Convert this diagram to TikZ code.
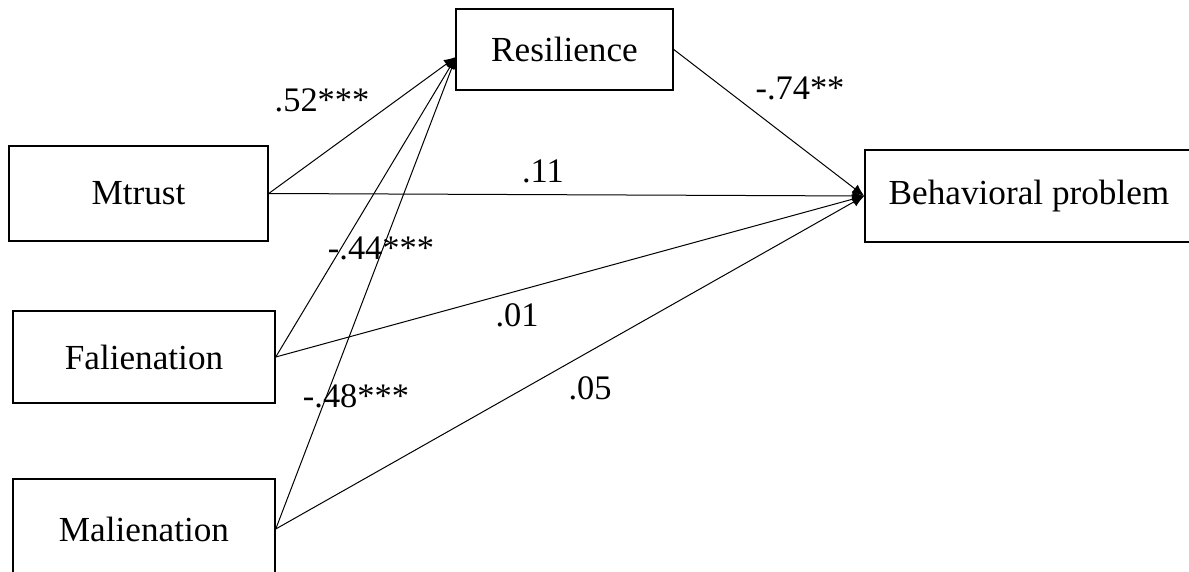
\documentclass[tikz,border=0pt]{standalone}
\usepackage{fontspec}
\setmainfont{Liberation Serif}
\usetikzlibrary{arrows.meta}
\begin{document}
\begin{tikzpicture}[x=0.5pt,y=-0.5pt,
  box/.style={draw, line width=0.75pt, inner sep=0pt, font=\fontsize{17.6}{20}\selectfont},
  link/.style={line width=0.5pt, -{Latex[length=6pt,width=5pt]}},
  lab/.style={font=\fontsize{17.2}{20}\selectfont, inner sep=0pt}]
\useasboundingbox (0,0) rectangle (1189,572);
\node[box, minimum width=108.5pt, minimum height=40.5pt] (res) at (564.5,49.5) {Resilience};
\node[box, minimum width=129.5pt, minimum height=47.5pt] (mt) at (138.5,193.5) {Mtrust};
\node[box, minimum width=164pt, minimum height=46pt] (bp) at (1029,196) {Behavioral problem};
\node[box, minimum width=131pt, minimum height=46pt] (fa) at (144,357) {Falienation};
\node[box, minimum width=131pt, minimum height=50pt] (ma) at (144,529) {Malienation};
\coordinate (rin) at (456,57);
\draw[link] (mt.east) -- (rin);
\draw[link] (fa.east) -- (rin);
\draw[link] (ma.east) -- (rin);
\draw[link] (res.east) -- (bp.west);
\draw[link] (mt.east) -- (bp.west);
\draw[link] (fa.east) -- (bp.west);
\draw[link] (ma.east) -- (bp.west);
\node[lab] (l1) at (322,100) {.52***};
\node[lab] (l2) at (800,88) {-.74**};
\node[lab] (l3) at (543,171) {.11};
\node[lab] (l4) at (381,248) {-.44***};
\node[lab] (l5) at (517,315) {.01};
\node[lab] (l6) at (590,388) {.05};
\node[lab] (l7) at (356,396) {-.48***};
\end{tikzpicture}
\end{document}
